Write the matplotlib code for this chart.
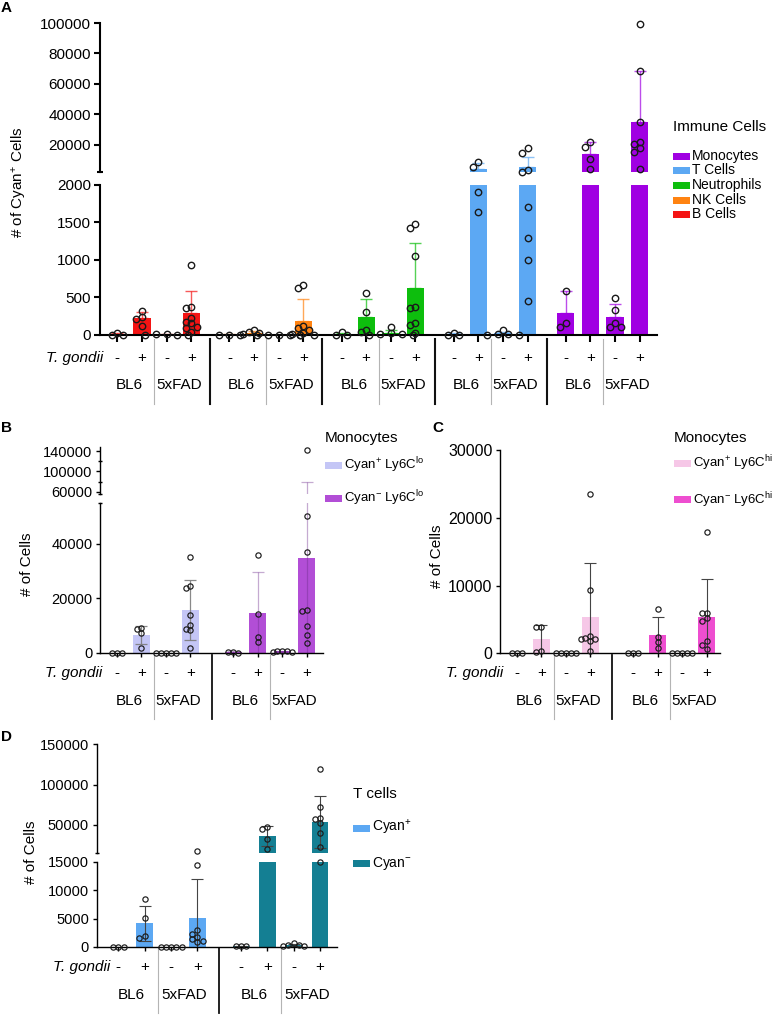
import numpy as np
import matplotlib
matplotlib.use('Agg')
import matplotlib.pyplot as plt
from matplotlib.patches import Rectangle
from matplotlib.colors import to_rgba
from matplotlib.transforms import blended_transform_factory

plt.rcParams['font.family'] = ['Liberation Sans', 'DejaVu Sans']
plt.rcParams['mathtext.fontset'] = 'custom'
plt.rcParams['mathtext.rm'] = 'Liberation Sans'
plt.rcParams['mathtext.it'] = 'Liberation Sans:italic'
plt.rcParams['mathtext.bf'] = 'Liberation Sans:bold'

W, H = 772, 1015

signs = ['-', '+', '-', '+']
genotypes = ['BL6', '5xFAD']

# ---- panel A: Cyan+ cells per immune cell type (order along x)
a_cells = ['B Cells', 'NK Cells', 'Neutrophils', 'T Cells', 'Monocytes']
a_colors = ['#F41414', '#FF8311', '#0DBE0D', '#5CA8F3', '#A000E2']
a_means = [[10, 222, 5, 289],
           [5, 30, 3, 191],
           [15, 236, 27, 622],
           [12, 4000, 20, 5100],
           [289, 13640, 236, 35100]]
a_sd = [[15, 88, 4, 293],
        [5, 25, 3, 285],
        [17, 240, 40, 600],
        [12, 3900, 25, 6970],
        [300, 7900, 173, 33330]]
a_pts = [[[30, 0, 0], [320, 244, 213, 116], [10, 8, 5, 3, 0], [937, 369, 355, 231, 178, 156, 111, 97, 36]],
         [[5, 0, 0], [60, 45, 20, 10], [5, 5, 3, 0, 0, 0], [667, 631, 120, 89, 67, 22, 10, 5]],
         [[35, 5, 5], [556, 302, 67, 44], [111, 20, 10, 8, 5, 5], [1475, 1422, 1053, 377, 355, 164, 133, 31]],
         [[25, 5, 5], [8400, 5500, 1910, 1636], [67, 15, 10, 5, 5], [17600, 14700, 3300, 2200, 1711, 1297, 996, 453]],
         [[590, 164, 111], [21540, 18650, 10360, 3970], [497, 333, 164, 111, 102],
          [99340, 68650, 35100, 21540, 20420, 17590, 15350, 3780]]]

# ---- panel B: Ly6C lo monocytes
b_labels = ['Cyan$^{+}$ Ly6C$^{\\mathrm{lo}}$', 'Cyan$^{-}$ Ly6C$^{\\mathrm{lo}}$']
b_colors = ['#C4C6F6', '#B24ED6']
b_means = [[0, 6500, 0, 15700], [270, 14720, 450, 34740]]
b_sd = [[0, 3400, 0, 10900], [200, 14720, 250, 45260]]
b_pts = [[[0, 0, 0], [9090, 8830, 7140, 1840], [0, 0, 0, 0, 0],
          [34960, 24290, 23550, 13760, 10080, 8830, 8350, 1620]],
         [[400, 400, 0], [35700, 14130, 5890, 3940], [800, 600, 500, 300, 200],
          [142000, 50050, 36950, 15710, 15350, 9940, 6510, 3460]]]

# ---- panel C: Ly6C hi monocytes
c_labels = ['Cyan$^{+}$ Ly6C$^{\\mathrm{hi}}$', 'Cyan$^{-}$ Ly6C$^{\\mathrm{hi}}$']
c_colors = ['#F6C7E7', '#EE4ED0']
c_means = [[0, 2065, 0, 5400], [0, 2700, 0, 5310]]
c_sd = [[0, 2110, 0, 7875], [0, 2610, 0, 5605]]
c_pts = [[[0, 0, 0], [3835, 3835, 384, 192], [0, 0, 0, 0, 0],
          [23500, 9340, 2550, 2300, 2150, 2065, 1770, 340]],
         [[0, 0, 0], [6490, 2360, 1620, 737], [0, 0, 0, 0, 0],
          [17940, 5900, 5900, 5160, 4810, 1770, 1224, 590]]]

# ---- panel D: T cells
d_labels = ['Cyan$^{+}$', 'Cyan$^{-}$']
d_colors = ['#5CA8F3', '#147F93']
d_means = [[0, 4170, 0, 5100], [200, 35950, 350, 53730]]
d_sd = [[0, 3100, 0, 6800], [50, 12450, 150, 32270]]
d_pts = [[[0, 0, 0], [8400, 5050, 1940, 1640], [0, 0, 0, 0, 0],
          [17500, 14400, 2990, 2230, 1810, 1350, 1110, 830]],
         [[250, 200, 150], [47500, 44300, 31850, 19400], [650, 350, 350, 200, 200],
          [119600, 71600, 57900, 56700, 51700, 40400, 22500, 14900]]]

fig = plt.figure(figsize=(W / 100, H / 100), dpi=100)


def make_axes(l, r, segs, xlim, spine_lw):
    # segs: (top px, bottom px, ylim), lowest segment first
    axs = []
    for t, b, ylim in segs:
        ax = fig.add_axes([l / W, 1 - b / H, (r - l) / W, (b - t) / H])
        ax.set_xlim(*xlim)
        ax.set_ylim(*ylim)
        ax.spines['top'].set_visible(False)
        ax.spines['right'].set_visible(False)
        ax.spines['left'].set_linewidth(spine_lw)
        ax.spines['bottom'].set_linewidth(spine_lw)
        axs.append(ax)
    for ax in axs[1:]:
        ax.spines['bottom'].set_visible(False)
        ax.tick_params(axis='x', which='both', bottom=False, labelbottom=False)
    return axs


def seg_of(axs, v):
    for a in axs:
        lo, hi = a.get_ylim()
        if lo <= v <= hi:
            return a
    return axs[0]


def swarm(axs, xc, vals, step, min_px):
    placed, xs = [], []
    for v in vals:
        ax = seg_of(axs, v)
        for k in [0, -1, 1, -2, 2, -3, 3, -4, 4]:
            xd, yd = ax.transData.transform((xc + k * step, v))
            if all((xd - px) ** 2 + (yd - py) ** 2 >= min_px ** 2 for px, py in placed):
                break
        placed.append((xd, yd))
        xs.append(xc + k * step)
    return xs


def draw(axs, bases, means, sds, pts, colors, ecolors, width, ms, mew, lower, cap, elw, step, min_px):
    for s, base in enumerate(bases):
        x = base + np.arange(4)
        for ax in axs:
            lo_y, hi_y = ax.get_ylim()
            ax.bar(x, means[s], width, color=colors[s], zorder=1, linewidth=0)
            for i in range(4):
                if sds[s][i] <= 0 or means[s][i] + sds[s][i] < lo_y:
                    continue
                lo = sds[s][i] if lower else 0
                ax.errorbar(x[i], means[s][i], yerr=[[lo], [sds[s][i]]], fmt='none',
                            ecolor=ecolors[s], elinewidth=elw, capsize=cap, capthick=elw, zorder=2)
        for i in range(4):
            xs = swarm(axs, x[i], pts[s][i], step, min_px)
            for ax in axs:
                lo_y, hi_y = ax.get_ylim()
                sel = [(xx, v) for xx, v in zip(xs, pts[s][i]) if lo_y <= v <= hi_y]
                if sel:
                    ax.plot([p[0] for p in sel], [p[1] for p in sel], 'o', mfc='none', mec='#1a1a1a',
                            ms=ms, mew=mew, zorder=3, clip_on=False)


def xlabels(ax, bases, sign_y, grp_y, sep_t, sep_b, fs, tg_x, black_lw, tick_len, tick_w):
    tr = blended_transform_factory(ax.transData, fig.transFigure)
    ax.set_xticks(np.concatenate([b + np.arange(4) for b in bases]))
    ax.set_xticklabels([])
    ax.tick_params(axis='x', direction='out', length=tick_len, width=tick_w)
    for k, b in enumerate(bases):
        for i in range(4):
            ax.text(b + i, 1 - sign_y / H, signs[i], transform=tr, ha='center', va='center', fontsize=fs)
        for j, g in enumerate(genotypes):
            ax.text(b + 2 * j + 0.5, 1 - grp_y / H, g, transform=tr, ha='center', va='center', fontsize=fs)
        ax.plot([b + 1.5] * 2, [1 - sep_t / H, 1 - sep_b / H], transform=tr, color='#b4b4b4',
                lw=0.8, clip_on=False)
        if k < len(bases) - 1:
            xm = (b + 3 + bases[k + 1]) / 2
            ax.plot([xm] * 2, [1 - sep_t / H, 1 - sep_b / H], transform=tr, color='#111111',
                    lw=black_lw, clip_on=False)
    fig.text(tg_x / W, 1 - sign_y / H, 'T. gondii', style='italic', ha='right', va='center', fontsize=fs)


def yticks(ax, major, labels, minor, fs, length, width):
    ax.set_yticks(major)
    ax.set_yticklabels(labels)
    ax.set_yticks(minor, minor=True)
    ax.tick_params(axis='y', which='major', direction='out', length=length, width=width, labelsize=fs, pad=2.5)
    ax.tick_params(axis='y', which='minor', direction='inout', length=length * 1.2, width=width)


def legend_block(x, title_y, title, labels, colors, ys, fs_t, fs_i, pw=17, ph=7):
    fig.text(x / W, 1 - title_y / H, title, ha='left', va='center', fontsize=fs_t)
    for lab, c, y in zip(labels, colors, ys):
        fig.add_artist(Rectangle((x / W, 1 - (y + ph / 2) / H), pw / W, ph / H,
                                 transform=fig.transFigure, color=c, lw=0))
        fig.text((x + pw + 2) / W, 1 - y / H, lab, ha='left', va='center', fontsize=fs_i)


# ================= Panel A =================
a_bases = [0, 4.55, 9.1, 13.65, 18.2]
axA = make_axes(100, 657, [(185, 335, (0, 2000)), (23, 172, (2000, 100000))], (-0.7, 21.9), 1.5)
a_ecol = [to_rgba(c, 0.7) for c in a_colors]
draw(axA, a_bases, a_means, a_sd, a_pts, a_colors, a_ecol, 0.7, 4.6, 1.0, False, 4, 1.0, 0.22, 5.5)
yticks(axA[0], [0, 500, 1000, 1500, 2000], ['0', '500', '1000', '1500', '2000'], [], 11, 4, 1.5)
yticks(axA[1], [20000, 40000, 60000, 80000, 100000], ['20000', '40000', '60000', '80000', '100000'],
       [2000], 11, 4, 1.5)
xlabels(axA[0], a_bases, 358, 385, 339, 404, 11, 103, 1.5, 5, 1.5)
fig.text(20 / W, 1 - 182 / H, '# of Cyan$^{+}$ Cells', rotation=90, ha='center', va='center', fontsize=11)
fig.text(6 / W, 1 - 8 / H, 'A', fontweight='bold', ha='center', va='center', fontsize=11)
order = [4, 3, 2, 1, 0]
legend_block(673, 127, 'Immune Cells', [a_cells[i] for i in order], [a_colors[i] for i in order],
             [156, 170.5, 185, 200, 214.5], 11, 10)

# ================= Panel B =================
b_bases = [0, 4.75]
axB = make_axes(100, 323, [(502.7, 652.7, (0, 55000)), (446.7, 494.3, (55000, 148500))], (-0.69, 8.41), 1.0)
b_ecol = [to_rgba('#7c7c7c', 0.9), to_rgba('#6E2C8C', 0.4)]
draw(axB, b_bases, b_means, b_sd, b_pts, b_colors, b_ecol, 0.7, 3.8, 0.85, True, 4, 0.9, 0.2, 4.5)
yticks(axB[0], [0, 20000, 40000], ['0', '20000', '40000'], [55000], 10.5, 3, 1.0)
yticks(axB[1], [60000, 100000, 140000], ['60000', '100000', '140000'], [55000, 80000, 120000], 10.5, 3, 1.0)
xlabels(axB[0], b_bases, 673, 701, 655, 719, 11, 102, 1.3, 3, 1.0)
fig.text(27 / W, 1 - 564 / H, '# of Cells', rotation=90, ha='center', va='center', fontsize=11)
fig.text(7 / W, 1 - 428 / H, 'B', fontweight='bold', ha='center', va='center', fontsize=11)
legend_block(325, 438, 'Monocytes', b_labels, b_colors, [465, 498], 11, 9.5)

# ================= Panel C =================
c_bases = [0, 4.75]
axC = make_axes(500, 720, [(450, 653.3, (0, 30000))], (-0.69, 8.3), 1.0)
c_ecol = ['#444444', '#444444']
draw(axC, c_bases, c_means, c_sd, c_pts, c_colors, c_ecol, 0.68, 3.8, 0.85, True, 4, 0.8, 0.2, 4.5)
yticks(axC[0], [0, 10000, 20000, 30000], ['0', '10000', '20000', '30000'], [], 11.5, 3, 1.0)
xlabels(axC[0], c_bases, 673, 701, 655, 719, 11, 503, 1.3, 3, 1.0)
fig.text(437 / W, 1 - 556 / H, '# of Cells', rotation=90, ha='center', va='center', fontsize=11)
fig.text(438 / W, 1 - 428 / H, 'C', fontweight='bold', ha='center', va='center', fontsize=11)
legend_block(674, 437.7, 'Monocytes', c_labels, c_colors, [463.3, 500], 11, 9.5)

# ================= Panel D =================
d_bases = [0, 4.65]
axD = make_axes(96.7, 336.7, [(861.7, 947, (0, 15000)), (744.3, 853, (15000, 150000))], (-0.82, 8.28), 1.0)
d_ecol = ['#444444', '#444444']
draw(axD, d_bases, d_means, d_sd, d_pts, d_colors, d_ecol, 0.63, 3.8, 0.85, True, 4, 0.8, 0.2, 4.5)
yticks(axD[0], [0, 5000, 10000, 15000], ['0', '5000', '10000', '15000'], [], 10.5, 3, 1.0)
yticks(axD[1], [50000, 100000, 150000], ['50000', '100000', '150000'], [15000], 10.5, 3, 1.0)
xlabels(axD[0], d_bases, 966.7, 995, 948, 1013, 11, 110, 1.3, 3, 1.0)
fig.text(31 / W, 1 - 852 / H, '# of Cells', rotation=90, ha='center', va='center', fontsize=11)
fig.text(7 / W, 1 - 737 / H, 'D', fontweight='bold', ha='center', va='center', fontsize=11)
legend_block(353, 794, 'T cells', d_labels, d_colors, [828, 863], 11, 10)

fig.savefig('out.png', dpi=100)
